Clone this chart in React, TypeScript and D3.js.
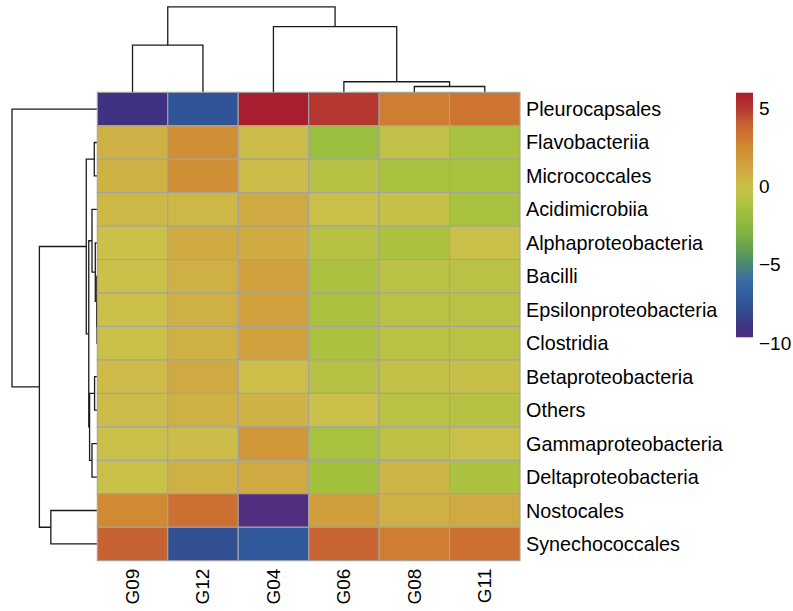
import React from "react";
import * as d3 from "d3";

const columns = ["G09", "G12", "G04", "G06", "G08", "G11"];
const rows = [
  "Pleurocapsales",
  "Flavobacteriia",
  "Micrococcales",
  "Acidimicrobiia",
  "Alphaproteobacteria",
  "Bacilli",
  "Epsilonproteobacteria",
  "Clostridia",
  "Betaproteobacteria",
  "Others",
  "Gammaproteobacteria",
  "Deltaproteobacteria",
  "Nostocales",
  "Synechococcales",
];

// row-wise values, in column order G09, G12, G04, G06, G08, G11
const pleurocapsales = [-9.0, -7.5, 6.03, 5.0, 3.0, 3.3];
const flavobacteriia = [0.8, 2.3, 0.2, -1.8, -0.4, -1.3];
const micrococcales = [0.7, 2.3, 0.2, -0.8, -1.3, -1.3];
const acidimicrobiia = [0.4, 0.4, 1.1, -0.1, -0.2, -1.3];
const alphaproteobacteria = [0.0, 1.0, 1.0, -0.8, -1.2, -0.1];
const bacilli = [0.0, 0.8, 1.4, -1.2, -0.7, -0.7];
const epsilonproteobacteria = [0.0, 0.8, 1.4, -1.2, -0.7, -0.7];
const clostridia = [0.0, 0.8, 1.4, -1.2, -0.7, -0.7];
const betaproteobacteria = [0.3, 1.1, 0.1, -0.8, -0.4, -0.2];
const others = [0.2, 0.8, 0.7, -0.05, -0.7, -0.8];
const gammaproteobacteria = [0.0, 0.2, 1.9, -1.3, -0.6, -0.1];
const deltaproteobacteria = [-0.1, 0.8, 1.1, -1.5, 0.6, -1.2];
const nostocales = [2.5, 3.5, -9.63, 1.5, 0.8, 1.1];
const synechococcales = [4.0, -7.8, -7.2, 3.9, 3.0, 3.5];

const values = [
  pleurocapsales,
  flavobacteriia,
  micrococcales,
  acidimicrobiia,
  alphaproteobacteria,
  bacilli,
  epsilonproteobacteria,
  clostridia,
  betaproteobacteria,
  others,
  gammaproteobacteria,
  deltaproteobacteria,
  nostocales,
  synechococcales,
];

// hclust-style merges (negative = leaf index, positive = earlier merge)
const colMerge = [[-5, -6], [-4, 1], [-1, -2], [-3, 2], [3, 4]];
const colHeights = [1.73, 3.14, 14.05, 19.6, 25.5];

const rowMerge = [
  [-7, -8],
  [-6, 1],
  [-9, -10],
  [-5, 2],
  [-2, -3],
  [-4, 4],
  [-11, -12],
  [3, 7],
  [6, 8],
  [5, 9],
  [-13, -14],
  [10, 11],
  [-1, 12],
];
const rowHeights = [0.09, 0.18, 0.81, 0.6, 0.9, 1.58, 1.58, 2.3, 2.54, 3.29, 13.84, 17.25, 25.41];

const legendTicks = [5, 0, -5, -10];
const colorStopValues = [6.03, 5.0, 4.0, 3.3, 2.5, 1.5, 0.8, 0.0, -0.8, -1.3, -2.0, -3.0, -4.0, -5.0, -6.0, -7.2, -7.8, -9.0, -9.63];
const colorStopColors = [
  "#A91F31", "#B5372F", "#C76232", "#CD7530", "#D08B32", "#D09F3C", "#CFB044", "#CBC04A",
  "#B7C144", "#A8C13E", "#95BD3C", "#7EB244", "#62A04E", "#4A8575", "#3A6CA4", "#30589D",
  "#324F92", "#3F3282", "#512E7F",
];

type Seg = { pts: [number, number][] };

function dendro(merge: number[][], heights: number[], leafPos: (i: number) => number) {
  const pos: number[] = [];
  const getPos = (id: number) => (id < 0 ? leafPos(-id - 1) : pos[id - 1]);
  const getH = (id: number) => (id < 0 ? 0 : heights[id - 1]);
  const segs: Seg[] = [];
  merge.forEach(([a, b], i) => {
    const h = heights[i];
    const pa = getPos(a);
    const pb = getPos(b);
    pos[i] = (pa + pb) / 2;
    segs.push({ pts: [[pa, getH(a)], [pa, h], [pb, h], [pb, getH(b)]] });
  });
  return segs;
}

export default function App() {
  const W = 793;
  const H = 611;
  const gx0 = 97.3, gx1 = 520, gy0 = 92.3, gy1 = 560.7;
  const font = "'Liberation Sans', Arial, Helvetica, sans-serif";

  const x = d3.scaleBand<string>().domain(columns).range([gx0, gx1]);
  const y = d3.scaleBand<string>().domain(rows).range([gy0, gy1]);

  const color = d3
    .scaleLinear<string>()
    .domain(colorStopValues)
    .range(colorStopColors)
    .interpolate(d3.interpolateRgb)
    .clamp(true);

  const colH = d3.scaleLinear().domain([0, d3.max(colHeights)!]).range([gy0, 6.8]);
  const rowH = d3.scaleLinear().domain([0, d3.max(rowHeights)!]).range([gx0, 12]);

  const colSegs = dendro(colMerge, colHeights, (i) => x(columns[i])! + x.bandwidth() / 2);
  const rowSegs = dendro(rowMerge, rowHeights, (i) => y(rows[i])! + y.bandwidth() / 2);

  const line = d3.line();

  const minV = d3.min(values.flat())!;
  const maxV = d3.max(values.flat())!;
  const lx = 736, lw = 17, ly0 = 92.7, ly1 = 337.3;
  const legendScale = d3.scaleLinear().domain([minV, maxV]).range([ly1, ly0]);
  const gradStops = d3.range(0, 51).map((k) => {
    const v = minV + ((maxV - minV) * k) / 50;
    return { offset: `${(k / 50) * 100}%`, c: color(v) };
  });

  return (
    <svg
      width={W}
      height={H}
      viewBox={`0 0 ${W} ${H}`}
      style={{ position: "absolute", left: 0, top: 0, background: "#fff" }}
    >
      <defs>
        <linearGradient id="lg" x1="0" y1="1" x2="0" y2="0">
          {gradStops.map((s, i) => (
            <stop key={i} offset={s.offset} stopColor={s.c} />
          ))}
        </linearGradient>
      </defs>
      <rect x={0} y={0} width={W} height={H} fill="#fff" />

      {/* column dendrogram */}
      <g fill="none" stroke="#1a1a1a" strokeWidth={1.3}>
        {colSegs.map((s, i) => (
          <path key={i} d={line(s.pts.map(([p, h]) => [p, colH(h)]))!} />
        ))}
      </g>

      {/* row dendrogram */}
      <g fill="none" stroke="#1a1a1a" strokeWidth={1.3}>
        {rowSegs.map((s, i) => (
          <path key={i} d={line(s.pts.map(([p, h]) => [rowH(h), p]))!} />
        ))}
      </g>

      {/* cells */}
      <g>
        {rows.map((r, ri) =>
          columns.map((c, ci) => (
            <rect
              key={`${r}-${c}`}
              x={x(c)!}
              y={y(r)!}
              width={x.bandwidth()}
              height={y.bandwidth()}
              fill={color(values[ri][ci])}
              stroke="#A3A3A3"
              strokeWidth={1.1}
            />
          ))
        )}
      </g>

      {/* row labels */}
      <g fontFamily={font} fontSize={19.8} fill="#000">
        {rows.map((r) => (
          <text key={r} x={gx1 + 6} y={y(r)! + y.bandwidth() / 2} dominantBaseline="central">
            {r}
          </text>
        ))}
      </g>

      {/* column labels */}
      <g fontFamily={font} fontSize={19} fill="#000">
        {columns.map((c) => (
          <text
            key={c}
            transform={`translate(${x(c)! + x.bandwidth() / 2},${gy1 + 8}) rotate(-90)`}
            textAnchor="end"
            dominantBaseline="central"
          >
            {c}
          </text>
        ))}
      </g>

      {/* legend */}
      <rect x={lx} y={ly0} width={lw} height={ly1 - ly0} fill="url(#lg)" />
      <g fontFamily={font} fontSize={19} fill="#000">
        {legendTicks.map((t) => (
          <text key={t} x={lx + lw + 6} y={legendScale(t)} dominantBaseline="central">
            {t < 0 ? `\u2212${Math.abs(t)}` : `${t}`}
          </text>
        ))}
      </g>
    </svg>
  );
}
